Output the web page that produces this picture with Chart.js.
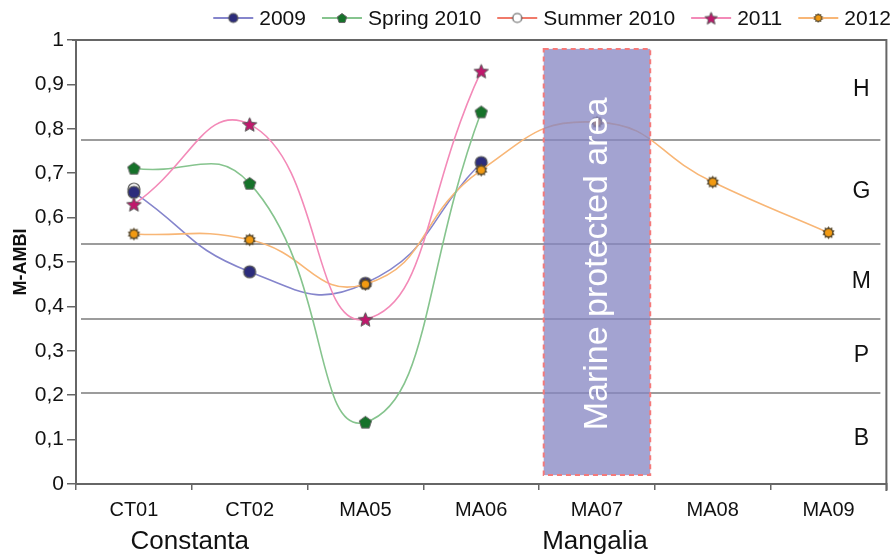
<!DOCTYPE html>
<html>
<head>
<meta charset="utf-8">
<script src="https://cdn.jsdelivr.net/npm/chart.js@4.4.1/dist/chart.umd.min.js"></script>
<style>
  html, body { margin: 0; padding: 0; background: #fff; }
  #wrap { width: 894px; height: 555px; }
</style>
</head>
<body>
<div id="wrap"><canvas id="c" width="894" height="555"></canvas></div>
<script>
// Sampling stations along the coast
const stations = ['CT01', 'CT02', 'MA05', 'MA06', 'MA07', 'MA08', 'MA09'];

// M-AMBI per survey
const seriesNames = ['2009', 'Spring 2010', 'Summer 2010', '2011', '2012'];
const v2009       = [0.657, 0.478, 0.452, 0.724, null, null, null];
const vSpring2010 = [0.711, 0.677, 0.139, 0.838, null, null, null];
const vSummer2010 = [0.664, null, null, null, null, null, null];
const v2011       = [0.630, 0.810, 0.371, 0.930, null, null, null];
const v2012       = [0.563, 0.550, 0.450, 0.707, 0.815, 0.680, 0.566];

// Y axis ticks
const yTicks = [0, 0.1, 0.2, 0.3, 0.4, 0.5, 0.6, 0.7, 0.8, 0.9, 1];

// Ecological status class boundaries (Bad / Poor / Moderate / Good / High)
const classBounds  = [0.205, 0.372, 0.54, 0.775];
const classLetters = ['B', 'P', 'M', 'G', 'H'];

// Coastal areas and the stations they cover
const areaNames = ['Constanta', 'Mangalia'];
const areaFrom  = ['CT01', 'MA05'];
const areaTo    = ['CT02', 'MA09'];

const protectedStation = 'MA07';
const protectedLabel = 'Marine protected area';

const FONT = '"Liberation Sans", Arial, Helvetica, sans-serif';

// ---- marker images ----
function makeCanvas(w, h, draw) {
  const c = document.createElement('canvas');
  c.width = w; c.height = h;
  draw(c.getContext('2d'), w / 2, h / 2);
  return c;
}
function polyPath(g, cx, cy, n, rOut, rIn) {
  g.beginPath();
  const steps = rIn == null ? n : n * 2;
  for (let i = 0; i < steps; i++) {
    const r = (rIn == null || i % 2 === 0) ? rOut : rIn;
    const a = -Math.PI / 2 + i * Math.PI * 2 / steps;
    const x = cx + r * Math.cos(a), y = cy + r * Math.sin(a);
    i ? g.lineTo(x, y) : g.moveTo(x, y);
  }
  g.closePath();
}
function circleMarker(r, fill, stroke) {
  return makeCanvas(2 * r + 4, 2 * r + 4, (g, cx, cy) => {
    g.beginPath(); g.arc(cx, cy, r, 0, Math.PI * 2);
    g.fillStyle = fill; g.fill();
    g.lineWidth = 1.2; g.strokeStyle = stroke; g.stroke();
  });
}
function pentagonMarker(r, fill, stroke) {
  return makeCanvas(2 * r + 4, 2 * r + 4, (g, cx, cy) => {
    polyPath(g, cx, cy + 0.5, 5, r);
    g.fillStyle = fill; g.fill();
    g.lineWidth = 1; g.strokeStyle = stroke; g.stroke();
  });
}
function starMarker(r, fill, stroke) {
  return makeCanvas(2 * r + 4, 2 * r + 4, (g, cx, cy) => {
    polyPath(g, cx, cy + 0.8, 5, r, r * 0.45);
    g.fillStyle = fill; g.fill();
    g.lineWidth = 1; g.strokeStyle = stroke; g.stroke();
  });
}
function sunMarker(r, fill, rim) {
  return makeCanvas(2 * r + 4, 2 * r + 4, (g, cx, cy) => {
    polyPath(g, cx, cy, 10, r, r * 0.72);
    g.fillStyle = rim; g.fill();
    g.beginPath(); g.arc(cx, cy, r * 0.55, 0, Math.PI * 2);
    g.fillStyle = fill; g.fill();
  });
}

const styles = [
  { line: '#8585cc', marker: circleMarker(6, '#2c2c7c', '#555'),     legend: circleMarker(4.5, '#2c2c7c', '#555') },
  { line: '#86c48e', marker: pentagonMarker(6.5, '#16722a', '#666'), legend: pentagonMarker(5, '#16722a', '#666') },
  { line: '#f07a6a', marker: circleMarker(6, '#ffffff', '#555'),     legend: circleMarker(4.5, '#ffffff', '#555') },
  { line: '#f38ab8', marker: starMarker(7.5, '#c0176c', '#555'),     legend: starMarker(6.5, '#c0176c', '#555') },
  { line: '#f8b676', marker: sunMarker(6.5, '#f29a12', '#5a4a2c'),   legend: sunMarker(5, '#f29a12', '#5a4a2c') }
];
const seriesValues = [v2009, vSpring2010, vSummer2010, v2011, v2012];
// draw order: smaller order sits on top
const drawOrder = [3, 1, 4, 0, 2];

const datasets = seriesNames.map((name, i) => ({
  label: name,
  data: seriesValues[i],
  borderColor: styles[i].line,
  backgroundColor: styles[i].line,
  borderWidth: 1.6,
  pointStyle: styles[i].marker,
  pointRadius: 6,
  tension: 0.5,
  order: drawOrder[i],
  spanGaps: false
}));

const fmtTick = v => (v === 0 || v === 1) ? String(v) : v.toFixed(1).replace('.', ',');

const decorations = {
  id: 'decorations',
  beforeDatasetsDraw(chart) {
    const { ctx, chartArea: a, scales: { y } } = chart;
    ctx.save();
    // status class boundaries
    ctx.strokeStyle = '#9c9c9c';
    ctx.lineWidth = 2;
    classBounds.forEach(v => {
      const py = Math.round(y.getPixelForValue(v));
      ctx.beginPath(); ctx.moveTo(a.left + 5, py); ctx.lineTo(a.right - 6, py); ctx.stroke();
    });
    // frame top and right
    ctx.strokeStyle = '#666';
    ctx.lineWidth = 2;
    ctx.beginPath();
    ctx.moveTo(a.left - 4, a.top); ctx.lineTo(a.right, a.top); ctx.lineTo(a.right, a.bottom + 7);
    ctx.stroke();
    ctx.restore();
  },
  afterDatasetsDraw(chart) {
    const { ctx, chartArea: a, scales: { x, y } } = chart;
    ctx.save();
    // protected area box
    const idx = stations.indexOf(protectedStation);
    const cx = x.getPixelForValue(idx);
    const half = 0.46 * (x.getPixelForValue(1) - x.getPixelForValue(0));
    const top = y.getPixelForValue(0.98), bot = y.getPixelForValue(0.02);
    ctx.fillStyle = 'rgba(134,134,194,0.76)';
    ctx.fillRect(cx - half, top, 2 * half, bot - top);
    ctx.setLineDash([5, 4]);
    ctx.strokeStyle = '#f47a7a';
    ctx.lineWidth = 2;
    ctx.strokeRect(cx - half, top, 2 * half, bot - top);
    ctx.setLineDash([]);
    ctx.translate(cx + 1, (top + bot) / 2 + 2);
    ctx.rotate(-Math.PI / 2);
    ctx.fillStyle = '#ffffff';
    ctx.font = '34px ' + FONT;
    ctx.textAlign = 'center';
    ctx.textBaseline = 'middle';
    ctx.fillText(protectedLabel, 0, 0);
    ctx.restore();

    // class letters at the middle of each band
    ctx.save();
    ctx.fillStyle = '#111';
    ctx.font = '23px ' + FONT;
    ctx.textAlign = 'center';
    ctx.textBaseline = 'middle';
    const edges = [0, ...classBounds, 1];
    classLetters.forEach((L, i) => {
      const py = y.getPixelForValue((edges[i] + edges[i + 1]) / 2);
      ctx.fillText(L, a.right - 25, py);
    });
    ctx.restore();
  },
  afterDraw(chart) {
    const { ctx, scales: { x } } = chart;
    ctx.save();
    // area names under the station labels
    ctx.fillStyle = '#111';
    ctx.font = '26px ' + FONT;
    ctx.textAlign = 'center';
    ctx.textBaseline = 'middle';
    areaNames.forEach((n, i) => {
      const c = (x.getPixelForValue(stations.indexOf(areaFrom[i])) + x.getPixelForValue(stations.indexOf(areaTo[i]))) / 2;
      ctx.fillText(n, c - 2, 542);
    });

    // legend: line with marker, then label
    const lineLen = 40, gapText = 6, gapItem = 16, ly = 18;
    ctx.font = '21px ' + FONT;
    ctx.textBaseline = 'middle';
    ctx.textAlign = 'left';
    const widths = chart.data.datasets.map(d => ctx.measureText(d.label).width);
    const total = widths.reduce((s, w) => s + w, 0) + chart.data.datasets.length * (lineLen + gapText) + (chart.data.datasets.length - 1) * gapItem;
    let lx = 891 - total;
    chart.data.datasets.forEach((d, i) => {
      ctx.strokeStyle = d.borderColor;
      ctx.lineWidth = 2;
      ctx.beginPath(); ctx.moveTo(lx, ly); ctx.lineTo(lx + lineLen, ly); ctx.stroke();
      const img = styles[i].legend;
      ctx.drawImage(img, lx + lineLen / 2 - img.width / 2, ly - img.height / 2);
      ctx.fillStyle = '#111';
      ctx.fillText(d.label, lx + lineLen + gapText, ly + 1);
      lx += lineLen + gapText + widths[i] + gapItem;
    });
    ctx.restore();
  }
};

new Chart(document.getElementById('c'), {
  type: 'line',
  data: { labels: stations, datasets },
  plugins: [decorations],
  options: {
    responsive: false,
    animation: false,
    devicePixelRatio: 1,
    layout: { padding: { top: 40, right: 6, left: 0, bottom: 0 } },
    plugins: { legend: { display: false }, tooltip: { enabled: false } },
    scales: {
      x: {
        offset: true,
        grid: { offset: true, drawOnChartArea: false, drawTicks: true, tickLength: 6, color: '#666', lineWidth: 1.5 },
        border: { color: '#666', width: 2 },
        ticks: { font: { family: FONT, size: 20 }, color: '#111', padding: 8 },
        afterFit(s) { s.height = 71; }
      },
      y: {
        min: 0, max: 1,
        afterBuildTicks(s) { s.ticks = yTicks.map(v => ({ value: v })); },
        grid: { drawOnChartArea: false, drawTicks: true, tickLength: 9, color: '#666', lineWidth: 1.5 },
        border: { color: '#666', width: 2 },
        ticks: { font: { family: FONT, size: 21 }, color: '#111', padding: 3, callback: v => fmtTick(v) },
        title: { display: true, text: 'M-AMBI', font: { family: FONT, size: 18, weight: 'bold' }, color: '#111', padding: { top: 10, bottom: 0 } },
        afterFit(s) { s.width = 76; }
      }
    }
  }
});
</script>
</body>
</html>
